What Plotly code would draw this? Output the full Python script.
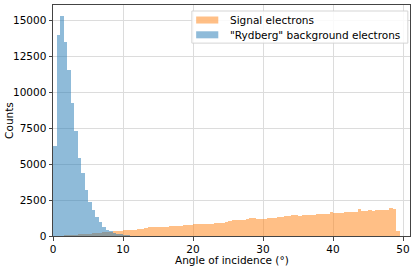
import numpy as np
import plotly.graph_objects as go

bin_width = 0.5

# Signal electrons: counts per 0.5-degree bin, starting at 0 deg
signal_counts = [
    5, 15, 30, 45, 60, 75, 95, 110, 130, 150,
    170, 190, 210, 235, 255, 280, 300, 320, 345, 365,
    385, 400, 420, 440, 460, 490, 540, 600, 620, 630,
    640, 650, 660, 670, 680, 700, 720, 740, 760, 780,
    810, 820, 830, 850, 860, 850, 880, 900, 920, 940,
    1060, 1080, 1090, 1110, 1130, 1150, 1220, 1225, 1210, 1215,
    1200, 1230, 1270, 1280, 1300, 1340, 1380, 1400, 1450, 1440,
    1420, 1430, 1450, 1460, 1450, 1500, 1500, 1510, 1520, 1660,
    1580, 1590, 1620, 1640, 1640, 1660, 1700, 1850, 1730, 1730,
    1830, 1720, 1830, 1780, 1780, 1790, 1920, 1850, 350,
]

# "Rydberg" background electrons: counts per 0.5-degree bin, starting at 0 deg
rydberg_counts = [
    6250, 13960, 15280, 13450, 11530, 9260, 7270, 5390, 4380, 3190,
    2385, 1780, 1340, 940, 650, 440, 320, 230, 160, 110,
    75, 50, 35, 25, 15, 10, 6, 4, 2,
]

series_names = ["Signal electrons", '"Rydberg" background electrons']
series_colors = ["rgba(255,127,14,0.5)", "rgba(31,119,180,0.5)"]

y_ticks = [0, 2500, 5000, 7500, 10000, 12500, 15000]
x_ticks = [0, 10, 20, 30, 40, 50]

sig_x = np.arange(len(signal_counts)) * bin_width + bin_width / 2
ryd_x = np.arange(len(rydberg_counts)) * bin_width + bin_width / 2

fig = go.Figure()
fig.add_trace(go.Bar(
    x=sig_x, y=signal_counts, width=bin_width, name=series_names[0],
    marker=dict(color=series_colors[0], line=dict(width=0)),
))
fig.add_trace(go.Bar(
    x=ryd_x, y=rydberg_counts, width=bin_width, name=series_names[1],
    marker=dict(color=series_colors[1], line=dict(width=0)),
))

axis_common = dict(
    showgrid=True, gridcolor="#dcdcdc", gridwidth=1,
    showline=True, linecolor="#444444", linewidth=1, mirror=True,
    ticks="outside", ticklen=3.5, tickcolor="#444444", tickwidth=1,
    zeroline=False, automargin=False,
    tickfont=dict(family="DejaVu Sans", size=10.5, color="black"),
)

# Legend drawn in paper coordinates (matplotlib-style box with wide patches)
shapes = [dict(type="rect", xref="paper", yref="paper",
               x0=0.389, x1=0.994, y0=0.835, y1=0.974,
               fillcolor="rgba(255,255,255,0.85)",
               line=dict(color="#d5d5d5", width=1), layer="above")]
annotations = []
legend_rows_y = [0.935, 0.871]
for name, color, yc in zip(series_names, series_colors, legend_rows_y):
    shapes.append(dict(type="rect", xref="paper", yref="paper",
                       x0=0.401, x1=0.463, y0=yc - 0.0152, y1=yc + 0.0152,
                       fillcolor=color, line=dict(width=0), layer="above"))
    annotations.append(dict(text=name, xref="paper", yref="paper",
                            x=0.49, y=yc, xanchor="left", yanchor="middle",
                            showarrow=False,
                            font=dict(family="DejaVu Sans", size=10.5)))

annotations += [
    dict(text="Angle of incidence (°)", xref="paper", yref="paper",
         x=0.5, y=-0.102, xanchor="center", yanchor="middle",
         showarrow=False, font=dict(family="DejaVu Sans", size=10.5)),
    dict(text="Counts", xref="paper", yref="paper", textangle=-90,
         x=-0.125, y=0.5, xanchor="center", yanchor="middle",
         showarrow=False, font=dict(family="DejaVu Sans", size=10.5)),
]

fig.update_layout(
    width=416, height=267,
    margin=dict(l=53, r=6, t=5, b=31),
    paper_bgcolor="white", plot_bgcolor="white",
    barmode="overlay", bargap=0,
    font=dict(family="DejaVu Sans", size=10.5, color="black"),
    xaxis=dict(range=[0, 51], tickvals=x_ticks, **axis_common),
    yaxis=dict(range=[0, 16044], tickvals=y_ticks, tickformat="d", **axis_common),
    showlegend=False,
    shapes=shapes,
    annotations=annotations,
)

fig.write_html(
    "out.html",
    config={"displayModeBar": False},
    post_script="document.body.style.margin='0';document.body.style.padding='0';",
)
